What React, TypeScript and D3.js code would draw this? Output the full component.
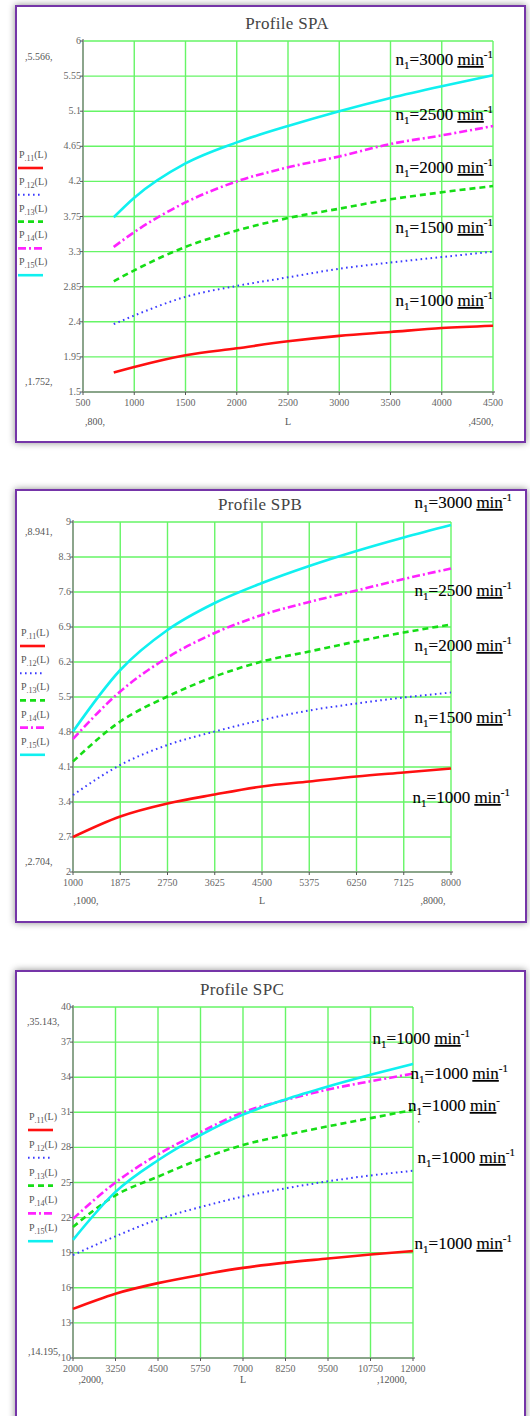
import * as d3 from 'd3';

// ---- data ----
const spaL = [800, 1000, 1500, 2000, 2500, 3000, 3500, 4000, 4500];
const spaP11 = [1.75, 1.82, 1.97, 2.06, 2.15, 2.22, 2.27, 2.32, 2.35];
const spaP12 = [2.37, 2.48, 2.72, 2.86, 2.97, 3.08, 3.16, 3.23, 3.3];
const spaP13 = [2.92, 3.06, 3.36, 3.57, 3.73, 3.85, 3.97, 4.06, 4.14];
const spaP14 = [3.36, 3.55, 3.93, 4.2, 4.38, 4.52, 4.68, 4.79, 4.91];
const spaP15 = [3.74, 3.99, 4.43, 4.7, 4.91, 5.1, 5.27, 5.42, 5.56];
const spaXTicks = [500, 1000, 1500, 2000, 2500, 3000, 3500, 4000, 4500];
const spaYTicks = ['1.5', '1.95', '2.4', '2.85', '3.3', '3.75', '4.2', '4.65', '5.1', '5.55', '6'];
const spaSpeeds = ['3000', '2500', '2000', '1500', '1000'];
const spaMarks = ['5.566', '1.752', '800', '4500'];

const spbL = [1000, 1875, 2750, 3625, 4500, 5375, 6250, 7125, 8000];
const spbP11 = [2.7, 3.11, 3.37, 3.55, 3.71, 3.81, 3.91, 3.99, 4.07];
const spbP12 = [3.54, 4.14, 4.54, 4.81, 5.04, 5.23, 5.37, 5.49, 5.59];
const spbP13 = [4.21, 5.01, 5.51, 5.91, 6.21, 6.41, 6.61, 6.79, 6.95];
const spbP14 = [4.66, 5.61, 6.29, 6.78, 7.14, 7.4, 7.63, 7.86, 8.07];
const spbP15 = [4.81, 6.04, 6.84, 7.38, 7.78, 8.12, 8.42, 8.69, 8.94];
const spbXTicks = [1000, 1875, 2750, 3625, 4500, 5375, 6250, 7125, 8000];
const spbYTicks = ['2', '2.7', '3.4', '4.1', '4.8', '5.5', '6.2', '6.9', '7.6', '8.3', '9'];
const spbSpeeds = ['3000', '2500', '2000', '1500', '1000'];
const spbMarks = ['8.941', '2.704', '1000', '8000'];

const spcL = [2000, 3250, 4500, 5750, 7000, 8250, 9500, 10750, 12000];
const spcP11 = [14.2, 15.5, 16.4, 17.1, 17.7, 18.15, 18.5, 18.85, 19.15];
const spcP12 = [18.8, 20.4, 21.85, 22.9, 23.8, 24.5, 25.1, 25.6, 26.0];
const spcP13 = [21.2, 23.9, 25.5, 27.0, 28.2, 29.05, 29.8, 30.5, 31.2];
const spcP14 = [21.9, 25.0, 27.4, 29.3, 31.0, 32.05, 32.95, 33.65, 34.3];
const spcP15 = [20.1, 24.2, 26.9, 29.05, 30.8, 32.1, 33.2, 34.2, 35.14];
const spcXTicks = [2000, 3250, 4500, 5750, 7000, 8250, 9500, 10750, 12000];
const spcYTicks = ['10', '13', '16', '19', '22', '25', '28', '31', '34', '37', '40'];
const spcSpeeds = ['1000', '1000', '1000', '1000', '1000'];
const spcMarks = ['35.143', '14.195', '2000', '12000'];

const seriesNames = ['11', '12', '13', '14', '15'];

const styles = [
    { color: '#ff1010', width: 2.6, dash: undefined as string | undefined },
    { color: '#3a3aff', width: 2, dash: '1.6,3.4' },
    { color: '#16dd16', width: 2.6, dash: '6,4' },
    { color: '#ff22ff', width: 2.6, dash: '8,3,2,3' },
    { color: '#10f0f0', width: 2.6, dash: undefined },
];

const serif = "'Liberation Serif', 'Times New Roman', serif";

type Box = { left: number; top: number; right: number; bottom: number };
type PanelCfg = {
    title: string;
    titleX: number;
    titleY: number;
    frame: Box;
    plot: Box;
    xs: number[];
    series: number[][];
    xTicks: number[];
    yTicks: string[];
    speeds: string[];
    marks: string[];
    annot: [number, number][];
    brokenAnnot?: number;
    markPos: [number, number][];
    legendX: number;
    legendTop: number;
    legendGap: number;
};

const panels: PanelCfg[] = [
    {
        title: 'Profile SPA', titleX: 287, titleY: 24,
        frame: { left: 16, top: 6, right: 525, bottom: 442 },
        plot: { left: 83, top: 41, right: 493, bottom: 392 },
        xs: spaL, series: [spaP11, spaP12, spaP13, spaP14, spaP15],
        xTicks: spaXTicks, yTicks: spaYTicks, speeds: spaSpeeds, marks: spaMarks,
        annot: [[493, 59], [493, 114], [493, 167], [493, 227], [493, 300]],
        markPos: [[25, 57], [25, 382], [95, 422], [481, 422]],
        legendX: 18, legendTop: 155, legendGap: 26.8,
    },
    {
        title: 'Profile SPB', titleX: 260, titleY: 505,
        frame: { left: 16, top: 490, right: 526, bottom: 922 },
        plot: { left: 73, top: 522, right: 451, bottom: 872 },
        xs: spbL, series: [spbP11, spbP12, spbP13, spbP14, spbP15],
        xTicks: spbXTicks, yTicks: spbYTicks, speeds: spbSpeeds, marks: spbMarks,
        annot: [[512, 502], [512, 590], [512, 645], [512, 717], [510, 797]],
        markPos: [[25, 532], [25, 862], [86, 901], [433, 901]],
        legendX: 20, legendTop: 633, legendGap: 27.2,
    },
    {
        title: 'Profile SPC', titleX: 242, titleY: 990,
        frame: { left: 16, top: 971, right: 525, bottom: 1440 },
        plot: { left: 73, top: 1007, right: 413, bottom: 1358 },
        xs: spcL, series: [spcP11, spcP12, spcP13, spcP14, spcP15],
        xTicks: spcXTicks, yTicks: spcYTicks, speeds: spcSpeeds, marks: spcMarks,
        annot: [[470, 1038], [508, 1073], [500, 1105], [515, 1157], [512, 1243]],
        brokenAnnot: 2,
        markPos: [[27, 1022], [28, 1352], [91, 1380], [392, 1380]],
        legendX: 28, legendTop: 1117, legendGap: 27.8,
    },
];

function Annotation({ x, y, speed, broken }: { x: number; y: number; speed: string; broken?: boolean }) {
    return (
        <g>
            <text
                x={x}
                y={y + 6}
                textAnchor="end"
                fontFamily={serif}
                fontSize={17}
                fill="#000"
                stroke="#000"
                strokeWidth={0.12}
            >
                n<tspan dy={4} fontSize={11}>1</tspan>
                <tspan dy={-4}>={speed} </tspan>
                <tspan textDecoration="underline">min</tspan>
                <tspan dy={-7} fontSize={11}>{broken ? '-' : '-1'}</tspan>
            </text>
            {broken && (
                <text x={x - 82} y={y + 22} fontFamily={serif} fontSize={9} fill="#000">'</text>
            )}
        </g>
    );
}

function Panel({ cfg }: { cfg: PanelCfg }) {
    const { plot, frame } = cfg;
    const yVals = cfg.yTicks.map(Number);
    const x = d3.scaleLinear().domain([cfg.xTicks[0], cfg.xTicks[cfg.xTicks.length - 1]]).range([plot.left, plot.right]);
    const y = d3.scaleLinear().domain([yVals[0], yVals[yVals.length - 1]]).range([plot.bottom, plot.top]);
    const line = d3
        .line<number>()
        .x((_, i) => x(cfg.xs[i]))
        .y(d => y(d))
        .curve(d3.curveMonotoneX);

    return (
        <g>
            <rect
                x={frame.left}
                y={frame.top}
                width={frame.right - frame.left}
                height={frame.bottom - frame.top}
                fill="#fff"
                stroke="#7434a8"
                strokeWidth={2}
                filter="url(#shadow)"
            />
            <text
                x={cfg.titleX}
                y={cfg.titleY + 5}
                textAnchor="middle"
                fontFamily={serif}
                fontSize={17}
                fill="#444"
                letterSpacing={0.3}
            >
                {cfg.title}
            </text>

            {/* grid */}
            <g stroke="#66f566" strokeWidth={1.4}>
                {cfg.xTicks.map(t => (
                    <line key={'gx' + t} x1={x(t)} x2={x(t)} y1={plot.top} y2={plot.bottom} />
                ))}
                {yVals.map(t => (
                    <line key={'gy' + t} x1={plot.left} x2={plot.right} y1={y(t)} y2={y(t)} />
                ))}
            </g>
            <line x1={plot.left} x2={plot.left} y1={plot.top - 2} y2={plot.bottom} stroke="#8a8a8a" strokeWidth={1.5} />
            <line x1={plot.left} x2={plot.right + 2} y1={plot.bottom} y2={plot.bottom} stroke="#8a8a8a" strokeWidth={1.5} />
            <g stroke="#555" strokeWidth={1}>
                {yVals.map(t => (
                    <line key={'ty' + t} x1={plot.left - 3} x2={plot.left} y1={y(t)} y2={y(t)} />
                ))}
                {cfg.xTicks.map(t => (
                    <line key={'tx' + t} x1={x(t)} x2={x(t)} y1={plot.bottom} y2={plot.bottom + 3} />
                ))}
            </g>

            {/* tick labels */}
            <g fontFamily={serif} fontSize={10} fill="#666">
                {cfg.yTicks.map(t => (
                    <text key={'yl' + t} x={plot.left - 2} y={y(+t) + 3} textAnchor="end">
                        {t}
                    </text>
                ))}
                {cfg.xTicks.map(t => (
                    <text key={'xl' + t} x={x(t)} y={plot.bottom + 14} textAnchor="middle">
                        {t}
                    </text>
                ))}
            </g>

            {/* range markers */}
            <g fontFamily={serif} fontSize={10} fill="#555">
                <text x={cfg.markPos[0][0]} y={cfg.markPos[0][1] + 3}>,{cfg.marks[0]},</text>
                <text x={cfg.markPos[1][0]} y={cfg.markPos[1][1] + 3}>,{cfg.marks[1]},</text>
                <text x={cfg.markPos[2][0]} y={cfg.markPos[2][1] + 3} textAnchor="middle">,{cfg.marks[2]},</text>
                <text x={(plot.left + plot.right) / 2} y={cfg.markPos[2][1] + 3} textAnchor="middle">L</text>
                <text x={cfg.markPos[3][0]} y={cfg.markPos[3][1] + 3} textAnchor="middle">,{cfg.marks[3]},</text>
            </g>

            {/* legend */}
            {seriesNames.map((n, i) => {
                const ly = cfg.legendTop + i * cfg.legendGap;
                const s = styles[i];
                return (
                    <g key={'lg' + n}>
                        <text x={cfg.legendX + 1} y={ly + 3} fontFamily={serif} fontSize={10} fill="#555">
                            P<tspan dy={3} fontSize={8}>.{n}</tspan>
                            <tspan dy={-3}>(L)</tspan>
                        </text>
                        <line
                            x1={cfg.legendX}
                            x2={cfg.legendX + 25}
                            y1={ly + 13}
                            y2={ly + 13}
                            stroke={s.color}
                            strokeWidth={s.width}
                            strokeDasharray={s.dash}
                        />
                    </g>
                );
            })}

            {/* curves */}
            {cfg.series.map((vals, i) => (
                <path
                    key={'c' + i}
                    d={line(vals) ?? ''}
                    fill="none"
                    stroke={styles[i].color}
                    strokeWidth={styles[i].width}
                    strokeDasharray={styles[i].dash}
                />
            ))}

            {cfg.speeds.map((sp, i) => (
                <Annotation
                    key={'an' + i}
                    x={cfg.annot[i][0]}
                    y={cfg.annot[i][1]}
                    speed={sp}
                    broken={cfg.brokenAnnot === i}
                />
            ))}
        </g>
    );
}

export default function App() {
    return (
        <svg
            width={530}
            height={1416}
            viewBox="0 0 530 1416"
            style={{ position: 'absolute', left: 0, top: 0, background: '#fff' }}
        >
            <defs>
                <filter id="shadow" x="-5%" y="-5%" width="110%" height="110%">
                    <feDropShadow dx={0} dy={0} stdDeviation={3.5} floodColor="#000" floodOpacity={0.45} />
                </filter>
            </defs>
            {panels.map(p => (
                <Panel key={p.title} cfg={p} />
            ))}
        </svg>
    );
}
